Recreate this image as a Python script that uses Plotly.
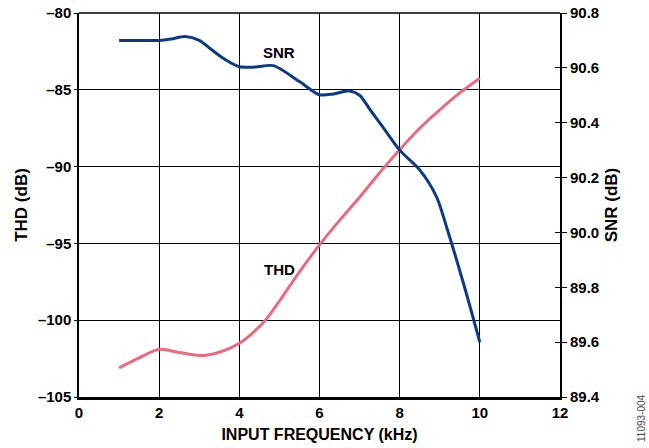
import plotly.graph_objects as go

# SNR (right axis, dB)
snr_freq = [1.0, 1.5, 2.0, 2.3, 2.65, 3.0, 3.3, 3.65, 4.0, 4.4, 4.85, 5.5, 6.0,
            6.35, 6.75, 7.0, 7.25, 7.6, 8.0, 8.5, 8.92, 9.17, 9.6, 10.0]
snr_db = [90.70, 90.70, 90.70, 90.705, 90.714, 90.70, 90.667, 90.63, 90.604, 90.603, 90.608,
          90.55, 90.502, 90.505, 90.516, 90.50, 90.45, 90.38, 90.30, 90.228,
          90.13, 90.02, 89.81, 89.60]

# THD (left axis, dB)
thd_freq = [1.0, 1.5, 2.0, 2.5, 3.1, 3.6, 4.0, 4.3, 4.65, 5.0, 5.5, 6.0, 6.5, 7.0, 7.5,
            8.0, 8.5, 9.0, 9.5, 10.0]
thd_db = [-103.1, -102.45, -101.9, -102.1, -102.3, -102.0, -101.5, -100.9, -100.0, -98.75,
          -96.85, -95.1, -93.5, -92.0, -90.4, -88.9, -87.5, -86.3, -85.2, -84.25]

x_ticks = [0, 2, 4, 6, 8, 10, 12]
thd_ticks = [-105, -100, -95, -90, -85, -80]
snr_ticks = [89.4, 89.6, 89.8, 90.0, 90.2, 90.4, 90.6, 90.8]

FONT = "Liberation Sans, Arial, sans-serif"
BLUE = "#0d3a85"
PINK = "#ea6a7e"

fig = go.Figure()
fig.add_trace(go.Scatter(x=thd_freq, y=thd_db, mode="lines", yaxis="y",
                         line=dict(color=PINK, width=3, shape="spline", smoothing=0.8),
                         showlegend=False))
fig.add_trace(go.Scatter(x=snr_freq, y=snr_db, mode="lines", yaxis="y2",
                         line=dict(color=BLUE, width=3, shape="spline", smoothing=0.8),
                         showlegend=False))
# invisible trace to activate yaxis3 (inside half of the right-axis tick marks)
fig.add_trace(go.Scatter(x=[None], y=[None], yaxis="y3", showlegend=False, hoverinfo="skip"))

tickfont = dict(family=FONT, size=15, color="black")

fig.update_layout(
    width=649, height=448,
    margin=dict(l=79, r=89, t=13, b=51),
    paper_bgcolor="white", plot_bgcolor="white",
    font=dict(family=FONT, color="black"),
    xaxis=dict(range=[0, 12], tickvals=x_ticks, ticktext=["<b>%d</b>" % v for v in x_ticks],
               showgrid=True, gridcolor="black", gridwidth=1,
               showline=True, linecolor="black", linewidth=2.5, mirror=False,
               ticks="", tickfont=tickfont, zeroline=False, automargin=False,
               title=dict(text="<b>INPUT FREQUENCY (kHz)</b>", font=dict(family=FONT, size=16),
                          standoff=10)),
    yaxis=dict(range=[-105, -80], tickvals=thd_ticks,
               ticktext=["<b>" + str(v).replace("-", "\u2013") + "</b>" for v in thd_ticks],
               showgrid=True, gridcolor="black", gridwidth=1,
               showline=True, linecolor="black", linewidth=1.5,
               ticks="outside", ticklen=3, tickcolor="black",
               tickfont=tickfont, zeroline=False, automargin=False,
               title=dict(text="<b>THD (dB)</b>", font=dict(family=FONT, size=17), standoff=6)),
    yaxis2=dict(range=[89.4, 90.8], tickvals=snr_ticks,
                ticktext=["<b>%.1f</b>" % v for v in snr_ticks],
                overlaying="y", side="right", showgrid=False,
                showline=True, linecolor="black", linewidth=2,
                ticks="outside", ticklen=5, tickcolor="black", tickwidth=1,
                tickfont=tickfont, zeroline=False, automargin=False,
                title=dict(text="<b>SNR (dB)</b>", font=dict(family=FONT, size=17), standoff=6)),
    yaxis3=dict(range=[89.4, 90.8], tickvals=snr_ticks, overlaying="y", side="right",
                showgrid=False, showline=False, ticks="inside", ticklen=5,
                tickcolor="black", showticklabels=False, zeroline=False, automargin=False),
    shapes=[dict(type="line", xref="paper", yref="paper", x0=0, x1=1, y0=1, y1=1,
                 line=dict(color="black", width=1.5))],
    annotations=[
        dict(text="<b>SNR</b>", x=5.0, y=90.655, xref="x", yref="y2", showarrow=False,
             font=dict(family=FONT, size=15)),
        dict(text="<b>THD</b>", x=5.0, y=-96.7, xref="x", yref="y", showarrow=False,
             font=dict(family=FONT, size=15)),
        dict(text="11093-004", x=(641 - 79) / 481, y=(397 - 418) / 384, xref="paper",
             yref="paper", showarrow=False, textangle=-90, xanchor="center", yanchor="middle",
             font=dict(family=FONT, size=10, color="#444444")),
    ],
)

fig.write_html("out.html")
